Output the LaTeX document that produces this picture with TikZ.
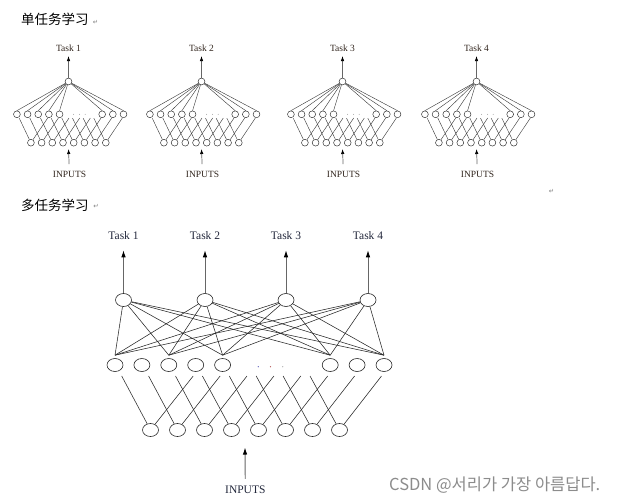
\documentclass[tikz,border=0pt]{standalone}
\usepackage{fontspec}
\setmainfont{Liberation Serif}
\newfontfamily\cjkfont{Noto Sans CJK SC}
\newfontfamily\krfont{Noto Sans CJK KR}
\newfontfamily\symfont{DejaVu Sans}
\usetikzlibrary{shapes.geometric, arrows.meta}
\definecolor{txtb}{RGB}{35,40,60}
\definecolor{txts}{RGB}{50,38,30}
\definecolor{wm}{RGB}{140,140,140}

\newcommand\stlnet[3]{%
  \node[stext] (#3t) at (#1,48.5) {#2};
  \node[snode] (#3o) at (#1,81.5) {};
  \draw[sarrow, shorten >=4pt] (#3o) -- (#3t);
  \foreach \k in {0,...,10} {\coordinate (#3p\k) at ({#1-51.6+10.66*\k},114.3);}
  \foreach \k in {0,1,2,3,4,8,9,10} {
    \node[snode] (#3h\k) at (#3p\k) {};
    \draw[slink] (#3o) -- (#3h\k.north);
  }
  \foreach \d in {5,11,16.7} {\fill[gray!70] ({#1+\d},114.3) circle (0.5pt);}
  \foreach \j in {0,...,7} {\node[snode] (#3i\j) at ({#1-37.6+10.7*\j},142.7) {};}
  \foreach \k in {0,...,7} {\draw[slink] ([shift={(2.3,3.8)}]#3p\k) -- ([shift={(-1.5,-3.3)}]#3i\k);}
  \foreach \k [evaluate=\k as \j using int(\k-3)] in {3,...,10} {\draw[slink] ([shift={(-1.2,3.8)}]#3p\k) -- ([shift={(2.2,-3.3)}]#3i\j);}
  \coordinate (#3a) at (#1,149);
  \node[stext] (#3in) at ({#1+1},174.5) {INPUTS};
  \draw[sarrow, shorten <=7pt] (#3in) -- (#3a);
}

\begin{document}
\begin{tikzpicture}[x=1pt,y=-1pt,
  bnode/.style={draw=black!85, ellipse, minimum width=16pt, minimum height=13pt, inner sep=0pt, line width=0.6pt},
  snode/.style={draw=black!85, circle, minimum size=6.8pt, inner sep=0pt, line width=0.45pt},
  link/.style={draw=black!85, line width=0.55pt},
  slink/.style={draw=black!80, line width=0.4pt},
  barrow/.style={-{Latex[length=7pt,width=4.5pt,color=black]}, draw=gray!80!black, line width=0.9pt},
  sarrow/.style={-{Latex[length=5pt,width=3.5pt,color=black]}, draw=gray!80!black, line width=0.7pt},
  btext/.style={font=\fontsize{11.5}{12}\selectfont, text=txtb, inner sep=0pt},
  stext/.style={font=\fontsize{9.5}{10}\selectfont, text=txts, inner sep=0pt},
  head/.style={font=\cjkfont\fontsize{13.5}{14}\selectfont, anchor=west, inner sep=0pt},
  pmark/.style={font=\symfont\fontsize{6.5}{6.5}\selectfont, text=gray, inner sep=0pt}
]
\fill[white] (0,0) rectangle (620,501);
\useasboundingbox (0,0) rectangle (620,501);

% headings
\node[head] (hd1) at (21,19.5) {单任务学习};
\node[pmark] (pm1) at (95.5,22.3) {↵};
\node[head] (hd2) at (21,205.5) {多任务学习};
\node[pmark] (pm2) at (96,206.7) {↵};
\node[pmark] (pm3) at (551.5,191) {↵};

% single-task nets
\stlnet{68.5}{Task 1}{a}
\stlnet{201.5}{Task 2}{b}
\stlnet{342.5}{Task 3}{c}
\stlnet{476.5}{Task 4}{d}

% multi-task net
\foreach \n/\x in {1/123.5,2/205,3/286,4/368} {
  \node[btext] (T\n) at (\x,236) {Task \n};
  \node[bnode] (O\n) at (\x,300) {};
  \draw[barrow, shorten >=10pt] (O\n) -- (T\n);
}
\foreach \k in {0,...,10} {\coordinate (P\k) at ({115+26.9*\k},365);}
\foreach \k in {0,1,2,3,4,8,9,10} {\node[bnode] (H\k) at (P\k) {};}
\foreach \n in {1,2,3,4} {
  \foreach \k in {0,2,4,8,10} {\draw[link] (O\n) -- ([yshift=3pt]H\k.north);}
}
\fill[gray!60!blue] (258.3,366.7) circle (0.6pt);
\fill[gray!60!red] (270.5,366.7) circle (0.6pt);
\fill[gray!70] (282.7,366.7) circle (0.6pt);
\foreach \j in {0,...,7} {\node[bnode] (I\j) at ({150.5+27*\j},430) {};}
\foreach \k in {0,...,7} {\draw[link] ([shift={(6.7,11)}]P\k) -- ([shift={(-2.2,-13.5)}]I\k);}
\foreach \k [evaluate=\k as \j using int(\k-3)] in {3,...,10} {\draw[link] ([shift={(-2.5,11)}]P\k) -- ([shift={(6,-13.5)}]I\j);}
\coordinate (A) at (245,447.5);
\node[btext] (IN) at (245.3,490) {INPUTS};
\draw[barrow, shorten <=7pt] (IN) -- (A);

% watermark
\node[font=\krfont\fontsize{16.5}{17}\selectfont, text=wm, anchor=west, inner sep=0pt] (wmk) at (389,485.5) {CSDN @서리가 가장 아름답다.};
\end{tikzpicture}
\end{document}
